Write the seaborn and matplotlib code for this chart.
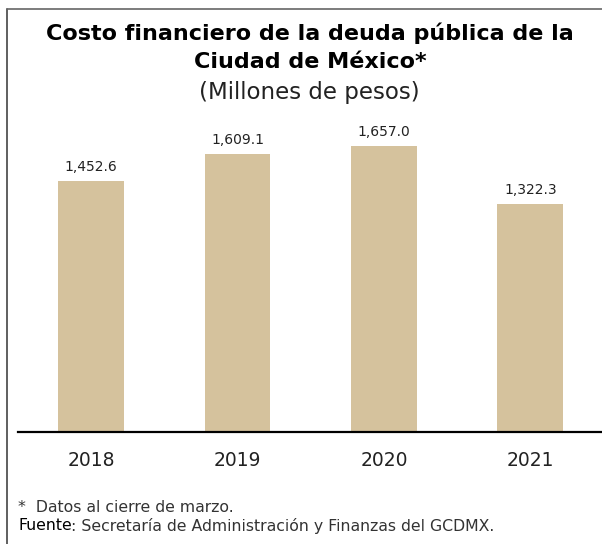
import matplotlib
matplotlib.use("Agg")
import matplotlib.pyplot as plt
import seaborn as sns
import pandas as pd
from matplotlib.lines import Line2D

years = ["2018", "2019", "2020", "2021"]
costo = [1452.6, 1609.1, 1657.0, 1322.3]

df = pd.DataFrame({"Año": years, "Costo": costo})

sns.set_style("white")
plt.rcParams['font.family'] = ['DejaVu Sans']

W, H = 602, 544
fig = plt.figure(figsize=(W / 100, H / 100), dpi=100)

# axes placed in pixel terms
left, right, top, bottom = 18, 602, 130, 432
ax = fig.add_axes([left / W, 1 - bottom / H, (right - left) / W, (bottom - top) / H])

sns.barplot(data=df, x="Año", y="Costo", color="#D5C29D", width=0.45,
            saturation=1, linewidth=0, ax=ax)
ax.set_xlim(-0.5, 3.49)
ax.set_ylim(0, 1750)

ax.bar_label(ax.containers[0], labels=[f"{v:,.1f}" for v in costo],
             padding=5, fontsize=10, color="#222222")

sns.despine(ax=ax, left=True, top=True, right=True)
ax.spines['bottom'].set_linewidth(1.6)
ax.spines['bottom'].set_color("black")
ax.set_yticks([])
ax.set_xlabel("")
ax.set_ylabel("")
ax.tick_params(axis='x', length=0, pad=14, labelsize=13.5, labelcolor="#222222")

# titles
fig.text(310 / W, 1 - 33 / H, "Costo financiero de la deuda pública de la",
         ha="center", va="center", fontsize=16, fontweight="bold", color="black")
fig.text(310 / W, 1 - 62 / H, "Ciudad de México*",
         ha="center", va="center", fontsize=16, fontweight="bold", color="black")
fig.text(309 / W, 1 - 92 / H, "(Millones de pesos)",
         ha="center", va="center", fontsize=16.5, color="#222222")

# footnotes
fs = 11.3
fig.text(18 / W, 1 - 508 / H, "*  Datos al cierre de marzo.",
         ha="left", va="center", fontsize=fs, color="#333333")
t = fig.text(18 / W, 1 - 526 / H, "Fuente", ha="left", va="center",
             fontsize=fs, color="black")
fig.canvas.draw()
bb = t.get_window_extent()
fig.text((bb.x1 - 1) / W, 1 - 526 / H, ": Secretaría de Administración y Finanzas del GCDMX.",
         ha="left", va="center", fontsize=fs, color="#333333")

# frame lines (left and top)
fig.add_artist(Line2D([7 / W, 7 / W], [0, 1 - 9 / H], color="#444444", lw=1.2))
fig.add_artist(Line2D([7 / W, 1], [1 - 9 / H, 1 - 9 / H], color="#666666", lw=1.2))

fig.savefig("out.png", dpi=100)
